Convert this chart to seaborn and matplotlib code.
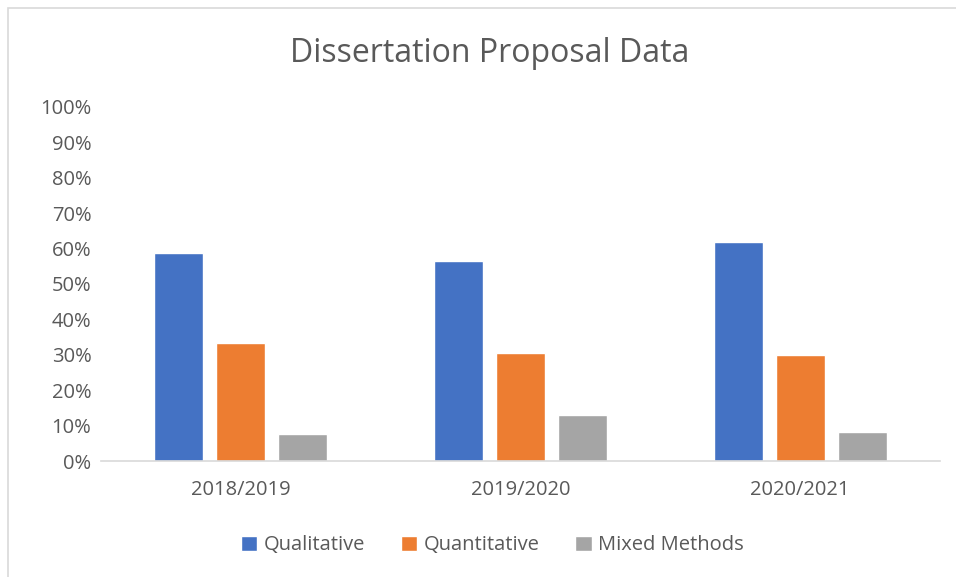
import numpy as np
import pandas as pd
import matplotlib.pyplot as plt
import seaborn as sns
from matplotlib.patches import Rectangle
from matplotlib.ticker import PercentFormatter

years = ["2018/2019", "2019/2020", "2020/2021"]
methods = ["Qualitative", "Quantitative", "Mixed Methods"]
qualitative = [58.7, 56.5, 61.8]
quantitative = [33.4, 30.4, 29.9]
mixed = [7.6, 13.0, 8.3]
colors = ["#4472C4", "#ED7D31", "#A5A5A5"]

df = pd.DataFrame({
    "year": years * 3,
    "method": np.repeat(methods, 3),
    "share": qualitative + quantitative + mixed,
})

sns.set_theme(style="white")
plt.rcParams["font.family"] = ["Open Sans", "DejaVu Sans"]

fig = plt.figure(figsize=(9.56, 5.77), dpi=100)
ax = fig.add_axes([0.1057, 0.201, 0.8776, 0.614])

sns.barplot(data=df, x="year", y="share", hue="method", hue_order=methods,
            order=years, palette=colors, width=0.665, gap=0.21,
            saturation=1, ax=ax, legend=True)

ax.set_ylim(0, 100)
ax.set_xlim(-0.5, 2.5)
ax.set_yticks(np.arange(0, 101, 10))
ax.yaxis.set_major_formatter(PercentFormatter(decimals=0))
ax.set_xlabel(""); ax.set_ylabel("")
ax.tick_params(axis="both", colors="#595959", labelsize=14.5, length=0)
ax.tick_params(axis="x", pad=14)
ax.tick_params(axis="y", pad=7)
for s in ["top", "right", "left"]:
    ax.spines[s].set_visible(False)
ax.spines["bottom"].set_color("#d9d9d9")
ax.spines["bottom"].set_linewidth(1.2)

fig.text(0.512, 0.907, "Dissertation Proposal Data", ha="center", va="center",
         fontsize=23, color="#595959")

ax.legend(loc="center", bbox_to_anchor=(0.515, 0.055), bbox_transform=fig.transFigure,
          ncol=3, frameon=False, fontsize=14.5, labelcolor="#595959",
          handlelength=0.8, handleheight=0.8, handletextpad=0.3, columnspacing=1.8)

fig.patches.append(Rectangle((0.008, -0.01), 1.5, 0.997, transform=fig.transFigure,
                             fill=False, edgecolor="#d9d9d9", linewidth=1.2))

fig.savefig("out.png", dpi=100)
